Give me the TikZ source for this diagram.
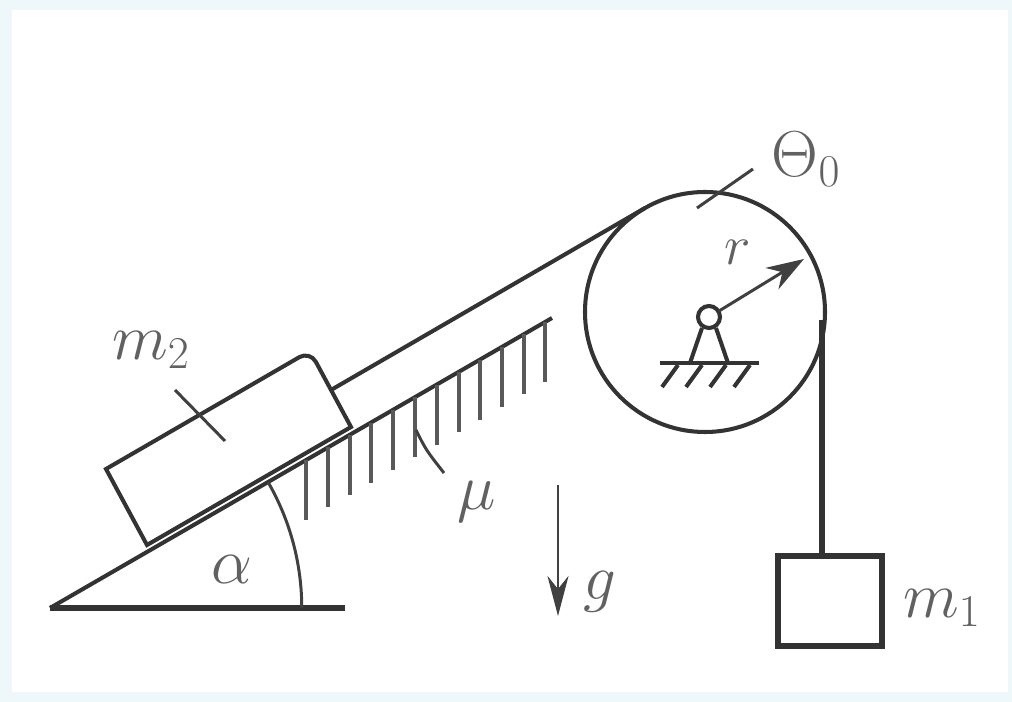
\documentclass[tikz,border=0pt]{standalone}
\usepackage{fix-cm}
\usetikzlibrary{arrows.meta}
\definecolor{panel}{HTML}{EEF8FA}
\tikzset{
  ink/.style={draw=black!80,line width=2.3pt},
  thin ink/.style={draw=black!75,line width=1.7pt},
  lbl/.style={text=black!62,inner sep=0pt,font=\fontsize{37}{42}\selectfont},
}
\begin{document}
\begin{tikzpicture}[x=0.02cm,y=-0.02cm]
\useasboundingbox (0,0) rectangle (1012,702);
\fill[panel] (0,0) rectangle (1012,702);
\fill[white] (12,10) rectangle (1008,692);
% incline
\draw[ink,line width=3pt] (50,608) -- (345,608);
\draw[ink] (50,608) -- (552,318);
\draw[thin ink] (147,545) -- (351,427);
\draw[thin ink] (268,482) arc (-30:0:252);
\draw[draw=black!65,line width=2.6pt] (306,460) -- (306,520) (328,447) -- (328,507) (350,435) -- (350,495)
  (371,423) -- (371,483) (393,410) -- (393,470) (415,397) -- (415,457) (437,385) -- (437,445)
  (459,372) -- (459,432) (480,360) -- (480,420) (502,347) -- (502,407) (524,334) -- (524,394) (545,322) -- (545,382);
\draw[thin ink] (416,430) .. controls (426,450) .. (444,473);
% block on the incline
\draw[ink] (106,469) [rounded corners=7pt] -- (310,351) [sharp corners] -- (351,427) -- (147,545) -- cycle;
\draw[thin ink] (175,390) -- (225,441);
\draw[ink] (331,390) -- (645,208);
% pulley
\draw[ink] (705,312) circle (120);
\draw[thin ink] (753,169) -- (697,208);
\draw[ink] (690,363) -- (702,328) (728,363) -- (716,328);
\draw[ink] (709,317) circle (11);
\draw[thin ink,-{Stealth[length=0.75cm,width=0.5cm]}] (719,311) -- (804,259);
\draw[ink] (660,363) -- (759,363);
\draw[ink] (678,365) -- (662,387) (702,365) -- (686,387) (726,365) -- (710,387) (750,365) -- (734,387);
% hanging mass
\draw[ink,line width=3pt] (822,320) -- (822,556);
\draw[ink,line width=3pt] (778,556) rectangle (882,646);
\draw[thin ink,-{Stealth[length=0.8cm,width=0.42cm]}] (558,485) -- (558,616);
\node[lbl] (labelmtwo) at (151,350) {$m_2$};
\node[lbl] (labelalpha) at (232,570) {$\alpha$};
\node[lbl] (labelmu) at (477,502) {$\mu$};
\node[lbl] (labelg) at (600,592) {$g$};
\node[lbl] (labeltheta) at (806,159) {$\Theta_0$};
\node[lbl,font=\fontsize{32}{36}\selectfont] (labelr) at (738,252) {$r$};
\node[lbl] (labelmone) at (942,608) {$m_1$};
\end{tikzpicture}
\end{document}
